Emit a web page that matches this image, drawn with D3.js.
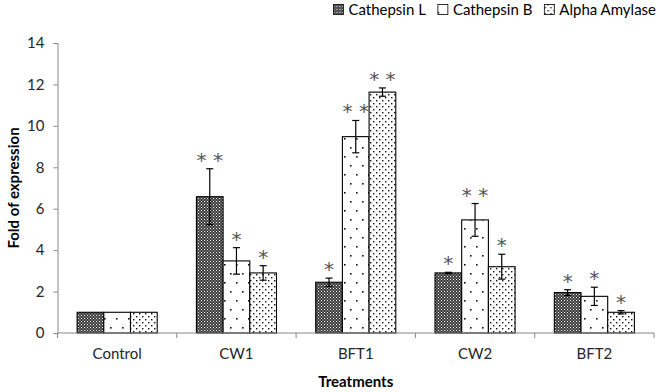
<!DOCTYPE html>
<html>
<head>
<meta charset="utf-8">
<script src="https://cdn.jsdelivr.net/npm/d3@7"></script>
<style>
  html, body { margin: 0; padding: 0; background: #fff; }
  svg { display: block; font-family: Lato, sans-serif; }
</style>
</head>
<body>
<div id="chart"></div>
<script>
const categories = ['Control', 'CW1', 'BFT1', 'CW2', 'BFT2'];
const seriesNames = ['Cathepsin L', 'Cathepsin B', 'Alpha Amylase'];

const cathepsinL = [1, 6.58, 2.45, 2.9, 1.95];
const cathepsinB = [1, 3.48, 9.48, 5.46, 1.77];
const alphaAmylase = [1, 2.9, 11.63, 3.2, 1.0];

const cathepsinLErr = [0, 1.35, 0.2, 0.03, 0.14];
const cathepsinBErr = [0, 0.64, 0.78, 0.79, 0.44];
const alphaAmylaseErr = [0, 0.35, 0.2, 0.6, 0.08];

const cathepsinLStars = ['', '**', '*', '*', '*'];
const cathepsinBStars = ['', '*', '**', '**', '*'];
const alphaAmylaseStars = ['', '*', '**', '*', '*'];

const yTicks = [0, 2, 4, 6, 8, 10, 12, 14];

const seriesValues = [cathepsinL, cathepsinB, alphaAmylase];
const seriesErrors = [cathepsinLErr, cathepsinBErr, alphaAmylaseErr];
const seriesStars = [cathepsinLStars, cathepsinBStars, alphaAmylaseStars];
const patternIds = ['pat-l', 'pat-b', 'pat-a'];

const width = 660, height = 392;
const margin = { top: 43, right: 6, bottom: 59, left: 57.5 };
const axisColor = '#868686';
const textColor = '#262626';
const fontSize = '15px';

const svg = d3.select('#chart').append('svg')
  .attr('width', width)
  .attr('height', height);

// Fill patterns
const defs = svg.append('defs');

const pl = defs.append('pattern').attr('id', 'pat-l')
  .attr('patternUnits', 'userSpaceOnUse').attr('width', 3).attr('height', 3);
pl.append('rect').attr('width', 3).attr('height', 3).attr('fill', '#3a3a3a');
pl.append('rect').attr('x', 0).attr('y', 0).attr('width', 1).attr('height', 1).attr('fill', '#fff');
pl.append('rect').attr('x', 1.5).attr('y', 1.5).attr('width', 1).attr('height', 1).attr('fill', '#ddd');

const pb = defs.append('pattern').attr('id', 'pat-b')
  .attr('patternUnits', 'userSpaceOnUse').attr('width', 12).attr('height', 18);
pb.append('rect').attr('width', 12).attr('height', 18).attr('fill', '#fff');
pb.append('rect').attr('x', 2).attr('y', 3).attr('width', 1.6).attr('height', 1.6).attr('fill', '#111');
pb.append('rect').attr('x', 8).attr('y', 12).attr('width', 1.6).attr('height', 1.6).attr('fill', '#111');

const pa = defs.append('pattern').attr('id', 'pat-a')
  .attr('patternUnits', 'userSpaceOnUse').attr('width', 6).attr('height', 6);
pa.append('rect').attr('width', 6).attr('height', 6).attr('fill', '#fff');
pa.append('rect').attr('x', 1).attr('y', 1).attr('width', 1.4).attr('height', 1.4).attr('fill', '#111');
pa.append('rect').attr('x', 4).attr('y', 4).attr('width', 1.4).attr('height', 1.4).attr('fill', '#111');

// Scales
const x = d3.scaleBand()
  .domain(categories)
  .range([margin.left, width - margin.right])
  .paddingInner(0).paddingOuter(0);

const xs = d3.scaleBand()
  .domain(d3.range(seriesNames.length))
  .range([0, x.bandwidth()])
  .paddingInner(0).paddingOuter(0.735);

const y = d3.scaleLinear()
  .domain([0, 14])
  .range([height - margin.bottom, margin.top]);

// Bars
seriesNames.forEach((name, s) => {
  const g = svg.append('g');
  const data = categories.map((c, i) => ({
    cat: c, v: seriesValues[s][i], e: seriesErrors[s][i], star: seriesStars[s][i]
  }));

  g.selectAll('rect')
    .data(data)
    .enter()
    .append('rect')
    .attr('x', d => x(d.cat) + xs(s))
    .attr('y', d => y(d.v))
    .attr('width', xs.bandwidth())
    .attr('height', d => y(0) - y(d.v))
    .attr('fill', `url(#${patternIds[s]})`)
    .attr('stroke', '#000')
    .attr('stroke-width', 1.1);

  // Error bars
  const eb = g.selectAll('.err')
    .data(data.filter(d => d.e > 0))
    .enter()
    .append('g')
    .attr('stroke', '#000')
    .attr('stroke-width', 1.2);
  const cx = d => x(d.cat) + xs(s) + xs.bandwidth() / 2;
  eb.append('line')
    .attr('x1', cx).attr('x2', cx)
    .attr('y1', d => y(d.v + d.e)).attr('y2', d => y(d.v - d.e));
  eb.append('line')
    .attr('x1', d => cx(d) - 3.5).attr('x2', d => cx(d) + 3.5)
    .attr('y1', d => y(d.v + d.e)).attr('y2', d => y(d.v + d.e));
  eb.append('line')
    .attr('x1', d => cx(d) - 3.5).attr('x2', d => cx(d) + 3.5)
    .attr('y1', d => y(d.v - d.e)).attr('y2', d => y(d.v - d.e));

  // Significance stars
  g.selectAll('.star')
    .data(data.filter(d => d.star))
    .enter()
    .append('text')
    .attr('x', cx)
    .attr('y', d => y(d.v + d.e) - 2)
    .attr('text-anchor', 'middle')
    .attr('fill', '#555')
    .style('font-family', '"DejaVu Sans", sans-serif')
    .style('font-size', '20px')
    .text(d => d.star.split('').join(' '));
});

// Y axis
const yAxis = svg.append('g')
  .attr('transform', `translate(${margin.left},0)`)
  .call(d3.axisLeft(y).tickValues(yTicks).tickSize(4).tickPadding(9));
yAxis.select('.domain').attr('stroke', axisColor);
yAxis.selectAll('.tick line').attr('stroke', axisColor);
yAxis.selectAll('.tick text')
  .attr('fill', textColor)
  .style('font-size', fontSize)
  .style('font-family', 'Lato, sans-serif');

// X axis with ticks at band boundaries
const xAxisG = svg.append('g')
  .attr('transform', `translate(0,${y(0)})`);
xAxisG.append('line')
  .attr('x1', margin.left).attr('x2', width - margin.right)
  .attr('stroke', axisColor);
const bounds = categories.map(c => x(c)).concat([x(categories[categories.length - 1]) + x.bandwidth()]);
xAxisG.selectAll('.xt')
  .data(bounds)
  .enter()
  .append('line')
  .attr('x1', d => d).attr('x2', d => d)
  .attr('y1', 0).attr('y2', 5)
  .attr('stroke', axisColor);
xAxisG.selectAll('.xl')
  .data(categories)
  .enter()
  .append('text')
  .attr('x', d => x(d) + x.bandwidth() / 2)
  .attr('y', 26)
  .attr('text-anchor', 'middle')
  .attr('fill', textColor)
  .style('font-size', fontSize)
  .text(d => d);

// Axis titles
svg.append('text')
  .attr('x', (margin.left + width - margin.right) / 2)
  .attr('y', 387)
  .attr('text-anchor', 'middle')
  .attr('fill', '#000')
  .style('font-size', fontSize)
  .style('font-weight', 'bold')
  .text('Treatments');

svg.append('text')
  .attr('transform', `translate(19,${(y(0) + y(14)) / 2}) rotate(-90)`)
  .attr('text-anchor', 'middle')
  .attr('fill', '#000')
  .style('font-size', fontSize)
  .style('font-weight', 'bold')
  .text('Fold of expression');

// Legend, right-aligned to the chart edge
const legend = svg.append('g');
let lx = 0;
seriesNames.forEach((name, s) => {
  legend.append('rect')
    .attr('x', lx).attr('y', 4.5)
    .attr('width', 10).attr('height', 10)
    .attr('fill', `url(#${patternIds[s]})`)
    .attr('stroke', '#000')
    .attr('stroke-width', 0.8);
  const t = legend.append('text')
    .attr('x', lx + 15).attr('y', 15)
    .attr('fill', '#000')
    .style('font-size', fontSize)
    .text(name);
  lx += 15 + t.node().getComputedTextLength() + (s < seriesNames.length - 1 ? 12 : 0);
});
legend.attr('transform', `translate(${656 - lx},0)`);
</script>
</body>
</html>
